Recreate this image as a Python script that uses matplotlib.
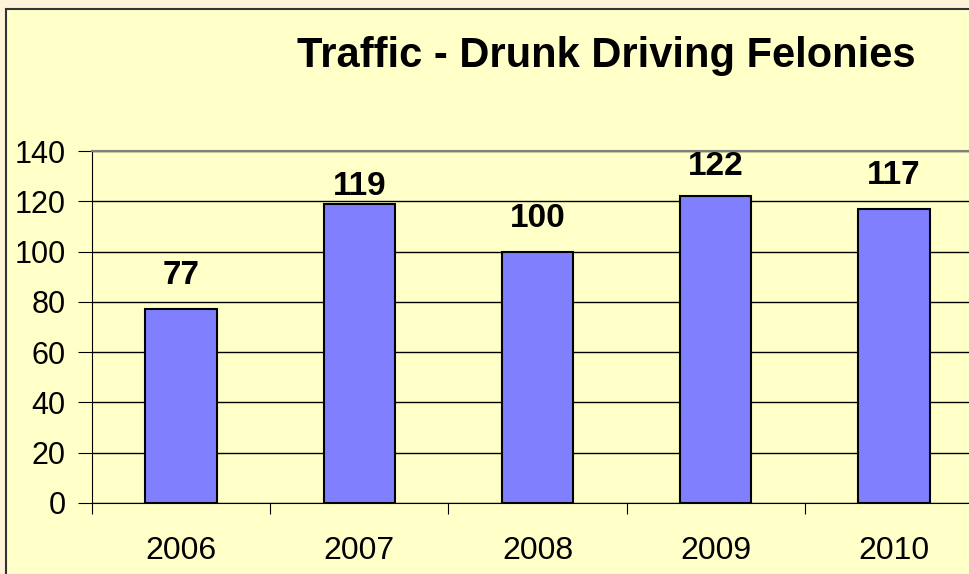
import matplotlib.pyplot as plt
import matplotlib.patches as mpatches
import numpy as np

# data
years = ['2006', '2007', '2008', '2009', '2010']
felonies = [77, 119, 100, 122, 117]

# gap (points) between bar top and its value label, as placed in the original
label_gap = [13, 1.5, 13, 10, 12.5]

plt.rcParams['font.family'] = ['Liberation Sans', 'DejaVu Sans']

fig = plt.figure(figsize=(9.69, 5.74), dpi=100)
fig.patch.set_facecolor('#FEF3D8')

# chart area with border (runs off right/bottom edge)
W, H = 969.0, 574.0
chart_bg = mpatches.Rectangle((6 / W, -0.05), 1.1, 1 - 9 / H + 0.05, transform=fig.transFigure,
                              facecolor='#FFFFC8', edgecolor='#333333', linewidth=1.5, zorder=-10)
fig.add_artist(chart_bg)

ax = fig.add_axes([92 / W, (H - 503) / H, (983 - 92) / W, (503 - 151) / H])
ax.set_zorder(1)
ax.set_facecolor('#FFFFC8')

x = np.arange(len(years))
ax.bar(x, felonies, width=0.4, color='#8080FF', edgecolor='black', linewidth=1.5, zorder=3)

for xi, v, g in zip(x, felonies, label_gap):
    ax.annotate(str(v), (xi, v), xytext=(0, g), textcoords='offset points',
                ha='center', va='bottom', fontsize=24, fontweight='bold')

ax.set_xlim(-0.5, len(years) - 0.5)
ax.set_ylim(0, 140)
ax.set_yticks(range(0, 141, 20))
ax.yaxis.grid(True, color='black', linewidth=1)
ax.set_axisbelow(True)

# category boundaries as major ticks, labels on minor ticks
ax.set_xticks(np.arange(-0.5, len(years), 1))
ax.set_xticklabels([])
ax.set_xticks(x, minor=True)
ax.set_xticklabels(years, minor=True)
ax.tick_params(axis='x', which='major', length=8, direction='out', color='black')
ax.tick_params(axis='x', which='minor', length=0, pad=24, labelsize=23)
ax.tick_params(axis='y', length=10, direction='out', labelsize=22, pad=9)

ax.spines['right'].set_visible(False)
ax.spines['top'].set_color('#808080')
ax.spines['top'].set_linewidth(1.5)
ax.spines['left'].set_color('black')
ax.spines['bottom'].set_color('black')

fig.text(606 / W, 1 - 56 / H, 'Traffic - Drunk Driving Felonies', ha='center', va='center',
         fontsize=30, fontweight='bold')

plt.savefig('out.png', dpi=100, facecolor=fig.get_facecolor())
